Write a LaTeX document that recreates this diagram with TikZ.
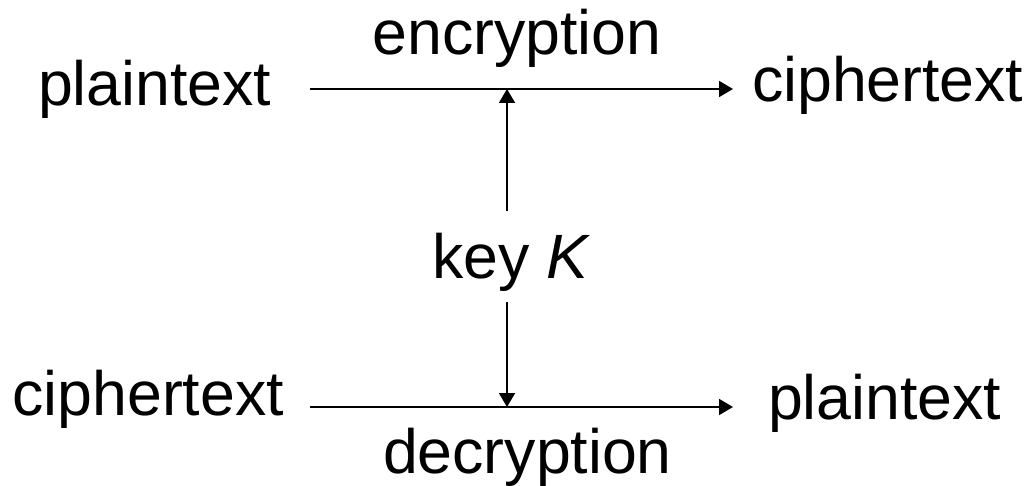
\documentclass[tikz,border=0pt]{standalone}
\usepackage{fontspec}
\setmainfont{Liberation Sans}
\usetikzlibrary{arrows.meta}
\begin{document}
\begin{tikzpicture}[x=1pt,y=-1pt,
  lbl/.style={inner sep=0pt,outer sep=0pt,anchor=base west,font=\fontsize{62.6}{74}\selectfont},
  conn/.style={line width=1.8pt,-{Triangle[length=14pt,width=16pt]}}]
\useasboundingbox[fill=white] (0,0) rectangle (1035,486);
% texts
\node[lbl] (ptop) at (38,105.5) {plaintext};
\node[lbl] (ctop) at (752,102) {ciphertext};
\node[lbl] (enc) at (372.5,55) {encryption};
\node[lbl] (key) at (432,278) {key \textit{K}};
\node[lbl] (cbot) at (12.5,415) {ciphertext};
\node[lbl] (pbot) at (768,419) {plaintext};
\node[lbl] (dec) at (383,473) {decryption};
% connector ends
\coordinate (es) at (310,89);
\coordinate (ee) at (733,89);
\coordinate (ej) at (507,89);
\coordinate (ku) at (507,211);
\coordinate (kd) at (507,302);
\coordinate (ds) at (310,407);
\coordinate (de) at (733,407);
\coordinate (dj) at (507,407);
% connectors
\draw[conn] (es) -- (ee);
\draw[conn] (ku) -- (ej);
\draw[conn] (kd) -- (dj);
\draw[conn] (ds) -- (de);
\end{tikzpicture}
\end{document}
